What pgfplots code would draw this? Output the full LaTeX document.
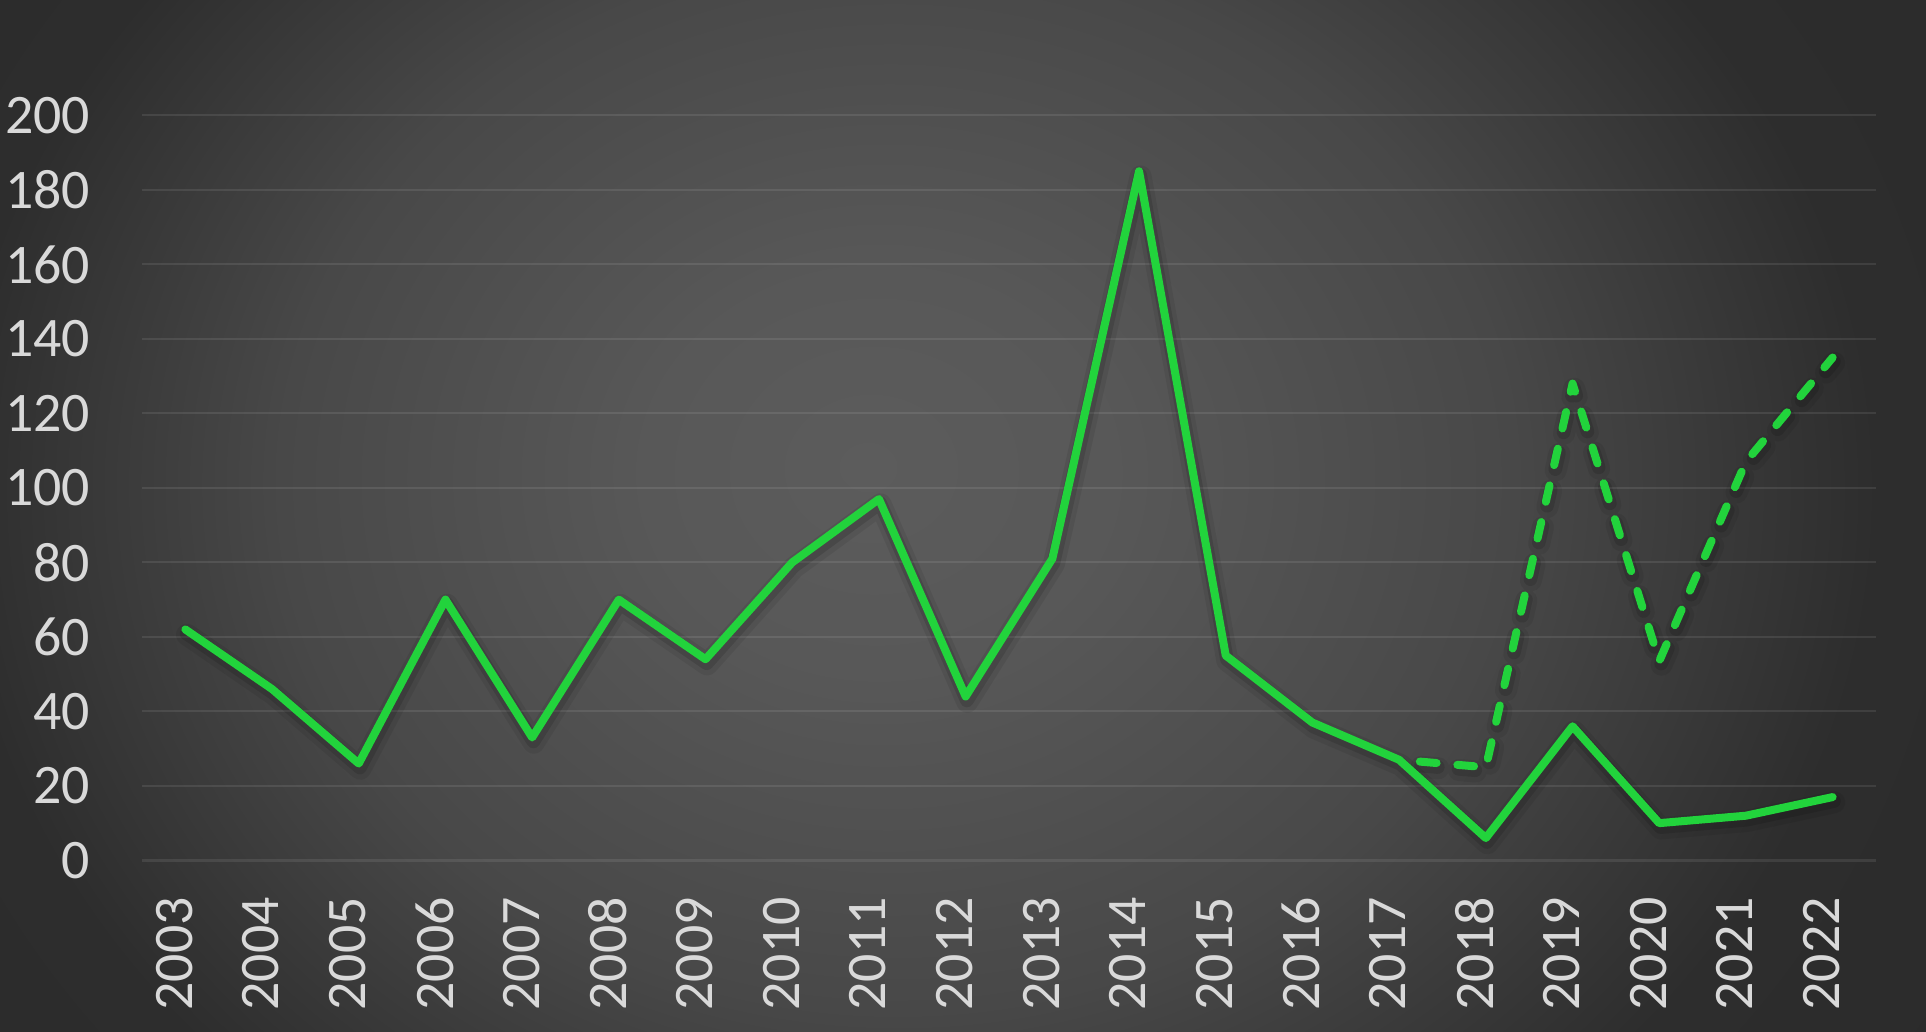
\documentclass[border=0pt]{standalone}
\usepackage{pgfplots}
\pgfplotsset{compat=1.18}
\usepackage{fontspec}
\setmainfont{Carlito}
\definecolor{lg}{RGB}{34,211,60}
\definecolor{lbl}{RGB}{217,217,217}
\definecolor{c0}{RGB}{92,92,92}
\definecolor{c1}{RGB}{88,88,88}
\definecolor{c2}{RGB}{72,72,72}
\definecolor{c3}{RGB}{45,45,45}
\definecolor{c4}{RGB}{38,38,38}
\pgfdeclareradialshading{bgshade}{\pgfpoint{-2.5bp}{1.5bp}}{color(0bp)=(c0); color(6bp)=(c1); color(16bp)=(c2); color(25bp)=(c3); color(50bp)=(c4)}
\pgfplotstableread{
x y
2003 62
2004 46
2005 26
2006 70
2007 33
2008 70
2009 54
2010 80
2011 97
2012 44
2013 81
2014 185
2015 55
2016 37
2017 27
2018 6
2019 36
2020 10
2021 12
2022 17
}\solid
\pgfplotstableread{
x y
2017 27
2018 25
2019 128
2020 53.5
2021 107
2022 135
}\dashed
\begin{document}
\begin{tikzpicture}
\begin{scope}
\clip (0bp,0bp) rectangle (481.5bp,258bp);
\shade[shading=bgshade] (0bp,-77.4bp) rectangle (481.5bp,335.4bp);
\end{scope}
\begin{axis}[
  at={(35.5bp,42.9bp)}, anchor=south west,
  scale only axis, width=433.5bp, height=186.25bp,
  xmin=2002.5, xmax=2022.5, ymin=0, ymax=200,
  xtick={2003,2004,...,2022},
  xticklabels={2003,2004,2005,2006,2007,2008,2009,2010,2011,2012,2013,2014,2015,2016,2017,2018,2019,2020,2021,2022},
  ytick={0,20,...,200},
  /pgf/number format/assume math mode=true,
  axis line style={draw=none},
  major tick length=0pt,
  ymajorgrids,
  major grid style={white, opacity=0.09, line width=0.55bp},
  tick label style={font=\fontsize{14}{16}\selectfont, text=lbl},
  yticklabel style={inner sep=0pt, anchor=east, xshift=-12.8bp},
  xticklabel style={xshift=-2.75bp, yshift=-9bp, rotate=90, anchor=east, inner sep=0pt},
  clip=false,
  shadowA/.style={black, opacity=0.07, line width=5.5bp, line join=round, line cap=round, xshift=0.4bp, yshift=-1.3bp, forget plot},
  shadowB/.style={black, opacity=0.12, line width=3.4bp, line join=round, line cap=round, xshift=0.3bp, yshift=-1bp, forget plot},
  dsh/.style={dash pattern=on 4.2bp off 5.2bp, dash phase=4.2bp},
]
\addplot[shadowA] table {\solid};
\addplot[shadowB] table {\solid};
\addplot[shadowA, dsh] table {\dashed};
\addplot[shadowB, dsh] table {\dashed};
\addplot[lg, line width=2bp, line join=round, line cap=round, dsh] table {\dashed};
\addplot[lg, line width=2bp, line join=round, line cap=round] table {\solid};
\end{axis}
\pgfresetboundingbox
\useasboundingbox (0bp,0bp) rectangle (481.5bp,258bp);
\end{tikzpicture}
\end{document}
